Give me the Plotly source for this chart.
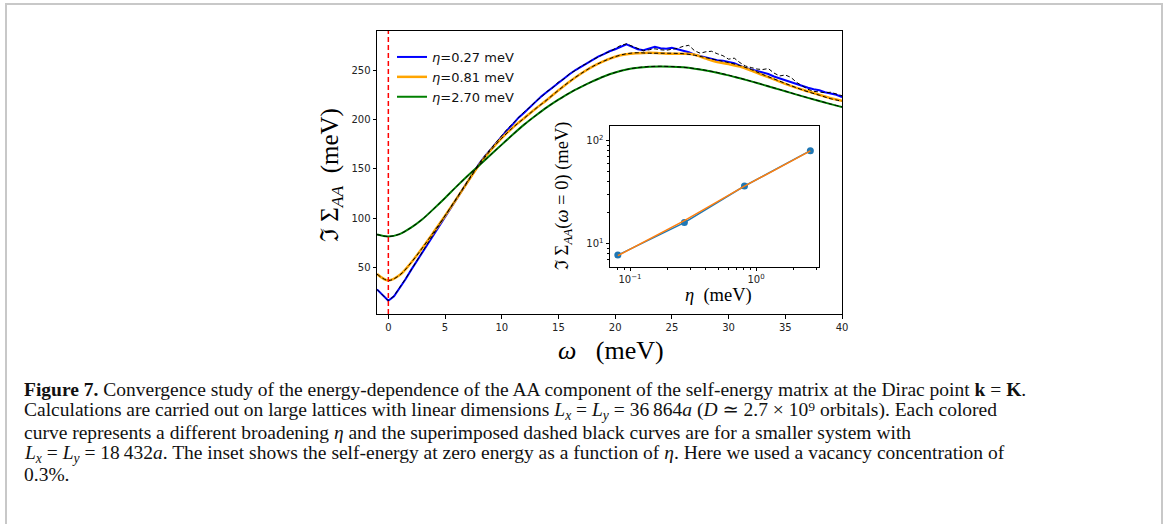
import plotly.graph_objects as go

# ---------------- data ----------------
# fine grid for the noisy eta=0.27 curves (meV)
omega_fine = [x * 0.5 for x in range(-2, 81)]
sigma_027 = [28, 22.5, 16.5, 21, 29, 38, 47.5, 56.5, 66, 75, 84, 93, 102, 111, 120, 128.5,
             137, 146, 155, 162.5, 169.5, 176, 183, 189.5, 195.5, 202, 207, 213, 218, 223.5,
             228, 233, 237.5, 242, 246, 250, 253.5, 257, 260, 263.5, 266, 269, 271, 273.5,
             276, 273.5, 271, 270, 272, 273.5, 272, 271.5, 272.5, 271, 270, 268, 265.5, 264,
             262.5, 261.5, 260, 259.5, 258.5, 257, 254.5, 252, 250.5, 249, 247.5, 246, 243.5,
             241.5, 240, 238, 236, 234, 232, 230.5, 229.5, 227.5, 226.5, 225, 222.5]
sigma_027_small = [28, 22.5, 16.5, 21.5, 29.5, 38.5, 47.5, 57, 66.5, 75.5, 84.5, 93.5, 102.5,
                   111.5, 120.5, 129, 137.5, 146.5, 155.5, 163, 170, 177, 183, 190.5, 196,
                   202.5, 208, 212.5, 218.5, 222.5, 228.5, 232, 238, 241, 246.5, 249.5, 254,
                   256.5, 260.5, 263, 266.5, 268.5, 272, 275, 276.5, 274, 271.5, 269.5, 270.5,
                   271.5, 270.5, 270, 271, 272, 274, 275, 269.5, 267, 268.5, 269, 266.5, 264.5,
                   261, 262, 257.5, 254, 252.5, 251, 250.5, 251.5, 247, 244, 245, 242.5, 237.5,
                   234, 230.5, 228.5, 228, 227, 227.5, 226, 224]

# coarse grid for the smoother curves (meV)
omega = list(range(-1, 41))
sigma_081 = [43.5, 37, 42.5, 55, 70, 86, 102.5, 119.5, 137, 154, 168.5, 181, 192, 201.5, 211,
             220, 229.5, 238.5, 246.5, 253.5, 259, 263.5, 266, 267, 267.5, 267, 266.5, 266.5,
             265.5, 261.5, 258, 256, 253.5, 249.5, 245, 240.5, 236, 232, 228.5, 225, 221.5, 219]
sigma_081_small = [43.5, 37, 42.5, 55, 70, 86, 102.5, 119.5, 137, 154, 168.5, 181, 192, 201.5,
                   211, 220, 229.5, 238.5, 246.5, 253.5, 259, 263.5, 266.5, 267.5, 267, 267,
                   267, 266.5, 265, 262.5, 260, 257.5, 254.5, 250.5, 245.5, 241, 236.5, 232,
                   228, 224.5, 221, 218.5]
sigma_270 = [83.5, 81.5, 84, 90.5, 99, 109.5, 120.5, 132, 143, 153.5, 164, 174.5, 185, 195,
             204, 212.5, 220, 227, 233, 238.5, 243.5, 247.5, 250.5, 252.3, 253.3, 253.6, 253.4,
             252.7, 251.4, 249.6, 247.3, 244.6, 241.6, 238.5, 235.2, 231.9, 228.5, 225.1,
             221.8, 218.6, 215.5, 212.6]
sigma_270_small = [83.5, 81.5, 84, 90.5, 99, 109.5, 120.5, 132, 143, 153.5, 164, 174.5, 185,
                   195, 204, 212.5, 220, 227, 233, 238.5, 243.5, 247.5, 250.5, 252.5, 253.5,
                   253.8, 253.5, 252.8, 251.5, 249.7, 247.5, 244.8, 241.8, 238.6, 235.3, 232,
                   228.6, 225.2, 221.9, 218.7, 215.6, 212.7]

legend_labels = ["<i>η</i>=0.27 meV", "<i>η</i>=0.81 meV", "<i>η</i>=2.70 meV"]

# inset data
eta = [0.08, 0.27, 0.81, 2.70]
sigma_zero = [7.8, 16.1, 36.4, 80.0]
sigma_zero_fit = [7.7, 16.8, 36.3, 79.5]

x_ticks_main = [0, 5, 10, 15, 20, 25, 30, 35, 40]
y_ticks_main = [50, 100, 150, 200, 250]

caption_lines = [
    "<b>Figure 7.</b> Convergence study of the energy-dependence of the AA component of the self-energy matrix at the Dirac point <b>k</b> = <b>K</b>.",
    "Calculations are carried out on large lattices with linear dimensions <i>L<sub>x</sub></i> = <i>L<sub>y</sub></i> = 36\u2009864<i>a</i> (<i>D</i> ≃ 2.7 × 10⁹ orbitals). Each colored",
    "curve represents a different broadening <i>η</i> and the superimposed dashed black curves are for a smaller system with",
    "<i>L<sub>x</sub></i> = <i>L<sub>y</sub></i> = 18\u2009432<i>a</i>. The inset shows the self-energy at zero energy as a function of <i>η</i>. Here we used a vacancy concentration of",
    "0.3%.",
]

# ---------------- layout geometry (page pixels) ----------------
W, H = 1165, 524
L, R, T, B = 377, 842, 31, 314


def px(x):
    return (x - L) / (R - L)


def py(y):
    return (B - y) / (B - T)


fig = go.Figure()

fig.add_trace(go.Scatter(x=omega_fine, y=sigma_027, mode="lines", name=legend_labels[0],
                         line=dict(color="#0000ff", width=2)))
fig.add_trace(go.Scatter(x=omega, y=sigma_081, mode="lines", name=legend_labels[1],
                         line=dict(color="#ffa500", width=2.5, shape="spline")))
fig.add_trace(go.Scatter(x=omega, y=sigma_270, mode="lines", name=legend_labels[2],
                         line=dict(color="#008000", width=2, shape="spline")))
for xs, ys, shp in [(omega_fine, sigma_027_small, "linear"),
                    (omega, sigma_081_small, "spline"),
                    (omega, sigma_270_small, "spline")]:
    fig.add_trace(go.Scatter(x=xs, y=ys, mode="lines", showlegend=False,
                             line=dict(color="black", width=1, dash="4px,2.5px", shape=shp)))

# inset traces
fig.add_trace(go.Scatter(x=eta, y=sigma_zero, mode="lines+markers", showlegend=False,
                         xaxis="x2", yaxis="y2",
                         line=dict(color="#1f77b4", width=1.5),
                         marker=dict(color="#1f77b4", size=7)))
fig.add_trace(go.Scatter(x=eta, y=sigma_zero_fit, mode="lines", showlegend=False,
                         xaxis="x2", yaxis="y2",
                         line=dict(color="#ff7f0e", width=1.5)))

tickfont = dict(family="DejaVu Sans", size=10, color="#222")
serif = "Liberation Serif, DejaVu Serif, serif"

fig.update_layout(
    width=W, height=H, autosize=False,
    margin=dict(l=L, r=W - R, t=T, b=H - B, pad=0),
    paper_bgcolor="white", plot_bgcolor="white",
    xaxis=dict(range=[-1, 40], tickvals=x_ticks_main, ticks="outside", ticklen=3.5,
               tickwidth=0.8, tickcolor="black", showline=True, linecolor="black",
               linewidth=1, mirror=True, showgrid=False, zeroline=False, tickfont=tickfont),
    yaxis=dict(range=[3.1, 289.5], tickvals=y_ticks_main, ticks="outside", ticklen=3.5,
               tickwidth=0.8, tickcolor="black", showline=True, linecolor="black",
               linewidth=1, mirror=True, showgrid=False, zeroline=False, tickfont=tickfont),
    xaxis2=dict(type="log", range=[-1.159, 0.5], domain=[px(610), px(819)], anchor="y2",
                tickvals=[0.1, 1], ticktext=["10<sup>−1</sup>", "10<sup>0</sup>"],
                ticks="outside", ticklen=3.5, tickwidth=0.8, tickcolor="black",
                minor=dict(ticks="outside", ticklen=2, tickwidth=0.6, tickcolor="black",
                           tickvals=[0.08, 0.09, 0.2, 0.3, 0.4, 0.5, 0.6, 0.7, 0.8, 0.9, 2, 3]),
                showline=True, linecolor="black", linewidth=1, mirror=True,
                showgrid=False, zeroline=False, tickfont=tickfont),
    yaxis2=dict(type="log", range=[0.78, 2.142], domain=[py(266.7), py(126)], anchor="x2",
                tickvals=[10, 100], ticktext=["10<sup>1</sup>", "10<sup>2</sup>"],
                ticks="outside", ticklen=3.5, tickwidth=0.8, tickcolor="black",
                minor=dict(ticks="outside", ticklen=2, tickwidth=0.6, tickcolor="black",
                           tickvals=[7, 8, 9, 20, 30, 40, 50, 60, 70, 80, 90]),
                showline=True, linecolor="black", linewidth=1, mirror=True,
                showgrid=False, zeroline=False, tickfont=tickfont),
    legend=dict(x=px(392), y=py(42), xanchor="left", yanchor="top",
                bgcolor="rgba(0,0,0,0)", borderwidth=0, itemwidth=30,
                tracegroupgap=0,
                font=dict(family="DejaVu Sans", size=13, color="#111")),
    showlegend=True,
)

shapes = [
    dict(type="line", xref="x", yref="y domain", x0=0, x1=0, y0=0, y1=1,
         line=dict(color="red", width=1.5, dash="5px,3px"), layer="above"),
    # page frame
    dict(type="line", xref="paper", yref="paper", x0=px(6), x1=px(6), y0=py(3), y1=py(530),
         line=dict(color="#c8c8c8", width=2)),
    dict(type="line", xref="paper", yref="paper", x0=px(5), x1=px(1163), y0=py(4), y1=py(4),
         line=dict(color="#c8c8c8", width=2)),
    dict(type="line", xref="paper", yref="paper", x0=px(1162), x1=px(1162), y0=py(3), y1=py(530),
         line=dict(color="#c8c8c8", width=2)),
]
fig.update_layout(shapes=shapes)

ann = [
    dict(text="ℑ Σ<sub><i>AA</i></sub>  (meV)", x=px(331), y=py(175), textangle=-90,
         font=dict(family=serif, size=25, color="black")),
    dict(text="<i>ω</i>   (meV)", x=px(611), y=py(350),
         font=dict(family=serif, size=26, color="black")),
    dict(text="ℑ Σ<sub><i>AA</i></sub>(<i>ω</i> = 0) (meV)", x=px(564), y=py(196), textangle=-90,
         font=dict(family=serif, size=18.5, color="black")),
    dict(text="<i>η</i>  (meV)", x=px(718), y=py(295),
         font=dict(family=serif, size=18.5, color="black")),
]
cap_y = [389, 410.5, 432, 453.5, 474.5]
for line, yy in zip(caption_lines, cap_y):
    ann.append(dict(text=line, x=px(22), y=py(yy), xanchor="left",
                    font=dict(family=serif, size=19.5, color="#111")))
for a in ann:
    a.setdefault("xanchor", "center")
    a.update(xref="paper", yref="paper", yanchor="middle", showarrow=False)
fig.update_layout(annotations=ann)

fig.write_html("out.html", config={"displayModeBar": False},
               post_script="document.body.style.margin='0px';")
